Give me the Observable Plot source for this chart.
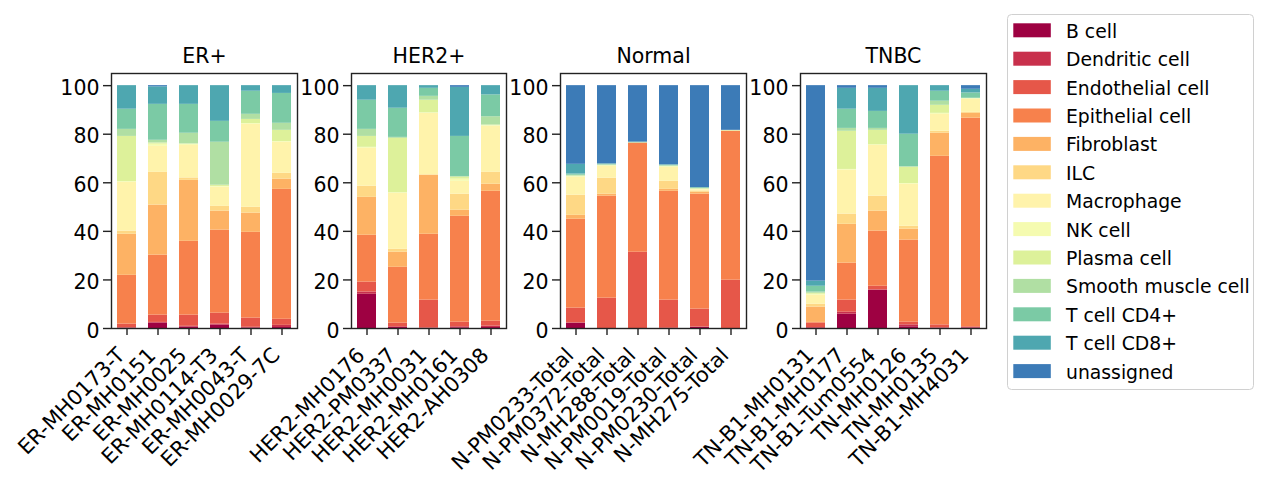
<!DOCTYPE html>
<html><head><meta charset="utf-8">
<script src="https://cdn.jsdelivr.net/npm/d3@7"></script>
<script src="https://cdn.jsdelivr.net/npm/@observablehq/plot@0.6"></script>
<style>
body{margin:0;background:#fff;}
#chart{position:relative;width:1271px;height:489px;overflow:hidden;font-family:"DejaVu Sans",sans-serif;}
#chart > svg{position:absolute;top:0;}
</style></head><body><div id="chart"></div><script>
// ---- data ----
const groups = ["ER+", "HER2+", "Normal", "TNBC"];
const erSamples = ["ER-MH0173-T","ER-MH0151","ER-MH0025","ER-MH0114-T3","ER-MH0043-T","ER-MH0029-7C"];
const her2Samples = ["HER2-MH0176","HER2-PM0337","HER2-MH0031","HER2-MH0161","HER2-AH0308"];
const normalSamples = ["N-PM0233-Total","N-PM0372-Total","N-MH288-Total","N-PM0019-Total","N-PM0230-Total","N-MH275-Total"];
const tnbcSamples = ["TN-B1-MH0131","TN-B1-MH0177","TN-B1-Tum0554","TN-MH0126","TN-MH0135","TN-B1-MH4031"];
const cellTypes = ["B cell","Dendritic cell","Endothelial cell","Epithelial cell","Fibroblast","ILC","Macrophage","NK cell","Plasma cell","Smooth muscle cell","T cell CD4+","T cell CD8+","unassigned"];
const yTicks = [0, 20, 40, 60, 80, 100];

// percentages per cell type, in sample order ER+ | HER2+ | Normal | TNBC
const bCell       = [0.1,2.2,0.6,1.4,0.2,0.4, 14.1,0.4,0.1,0.3,0.4, 2.2,0,0,0.1,0.5,0, 0.1,5.9,15.8,0.7,0.1,0.2];
const dendritic   = [0.2,0.3,0.3,0.4,0.3,0.9, 0.9,0.3,0.1,0.4,0.6, 0.1,0,0,0,0.1,0, 0.3,0.8,0.1,0.8,0.2,0.2];
const endothelial = [1.5,3.0,4.6,4.5,3.8,2.5, 4.1,1.5,11.5,1.9,2.0, 6.1,12.5,31.4,11.6,7.4,19.9, 1.8,5.0,1.5,1.1,1.2,0.3];
const epithelial  = [20.1,24.7,30.4,34.2,35.3,53.5, 19.3,23.0,27.1,43.6,53.5, 36.6,42.0,44.9,44.8,47.3,61.3, 0.3,15.2,22.7,33.8,69.4,85.9];
const fibroblast  = [16.9,20.6,25.1,7.8,7.9,4.2, 15.6,6.2,24.3,2.5,2.9, 1.6,0.8,0.1,0.8,0.8,0.1, 6.3,16.0,8.2,4.5,9.5,2.0];
const ilc         = [1.3,13.5,1.0,2.0,2.4,2.4, 4.6,1.2,0.2,6.6,4.9, 8.3,6.6,0,3.3,0.5,0, 1.2,4.2,6.2,1.2,0.8,0.4];
const macrophage  = [20.1,10.7,13.4,7.9,34.2,12.8, 15.6,23.1,25.3,5.3,19.0, 7.4,4.9,0,5.8,0.5,0, 3.7,18.1,20.9,17.3,7.0,5.4];
const nkCell      = [0.3,0.9,0.5,0.3,0.3,0.3, 0.4,0.2,0.2,0.9,0.2, 0.2,0.2,0,0.2,0.2,0, 0.4,0.3,0.3,0.3,0.4,0.2];
const plasma      = [18.6,0.5,0.1,0.5,1.7,4.6, 4.5,22.4,5.2,0.8,0.3, 0.3,0.2,0,0.2,0.2,0.2, 0.4,15.7,5.9,6.7,3.3,0.2];
const smooth      = [2.9,1.1,4.4,17.7,2.1,2.9, 2.9,0.4,1.6,0.3,3.4, 0.3,0.2,0.1,0.2,0.2,0.1, 0.5,1.2,0.8,0.2,1.7,0];
const cd4         = [8.3,14.8,11.9,8.6,9.5,12.3, 12.0,12.0,3.3,16.5,9.0, 0.5,0.3,0.1,0.3,0.3,0, 2.4,7.9,7.0,13.4,4.1,2.2];
const cd8         = [9.7,7.2,7.7,14.7,2.3,3.2, 6.0,9.3,1.1,20.2,3.8, 4.0,0.1,0.2,0.1,0,0, 2.1,8.6,9.5,20.0,2.3,1.5];
const unassigned  = [0,0.5,0,0,0,0, 0,0,0,0.7,0, 32.4,32.2,23.2,32.6,42.0,18.4, 80.5,1.1,1.1,0,0,1.5];

// ---- build table ----
const series = [bCell,dendritic,endothelial,epithelial,fibroblast,ilc,macrophage,nkCell,plasma,smooth,cd4,cd8,unassigned];
const groupSamples = [erSamples, her2Samples, normalSamples, tnbcSamples];
const table = [];
let j = 0;
groupSamples.forEach((samples, g) => {
  samples.forEach(s => {
    cellTypes.forEach((c, k) => table.push({group: groups[g], sample: s, cell: c, value: series[k][j]}));
    j++;
  });
});

// Spectral colormap (matplotlib, linear segments) sampled at i/13
const spectral = d3.piecewise(d3.interpolateRgb, ["#9e0142","#d53e4f","#f46d43","#fdae61","#fee08b","#ffffbf","#e6f598","#abdda4","#66c2a5","#3288bd","#5e4fa2"]);
const colors = cellTypes.map((_, i) => d3.color(spectral(i / 13)).formatHex());

// ---- panels ----
const chart = document.getElementById("chart");
const panelLeft = [111, 351, 560, 800];
const step = 31, mL = 60, mR = 10, fs = 20.5, fsX = 21;

groups.forEach((g, gi) => {
  const samples = groupSamples[gi];
  const W = samples.length * step;
  const rows = table.filter(d => d.group === g);
  const svg = Plot.plot({
    width: W + mL + mR, height: 489,
    marginLeft: mL, marginRight: mR, marginTop: 73, marginBottom: 161,
    style: {fontFamily: "DejaVu Sans", fontSize: fs + "px", background: "transparent", color: "#000", overflow: "visible"},
    x: {domain: samples, paddingInner: 0.4, paddingOuter: 0.2, axis: null},
    y: {domain: [0, 105], axis: null},
    color: {domain: cellTypes, range: colors},
    marks: [
      Plot.barY(rows, {x: "sample", y: "value", fill: "cell"}),
      Plot.frame({stroke: "#222", strokeWidth: 1.4}),
      Plot.axisY({ticks: yTicks, tickSize: 8, tickFormat: () => "", label: null, strokeWidth: 1.4, stroke: "#222"}),
      Plot.axisY({ticks: yTicks, tickSize: 0, tickPadding: 12, fontSize: fs, label: null, dy: 2.5}),
      Plot.axisX({tickSize: 7, tickFormat: () => "", label: null, strokeWidth: 1.4, stroke: "#222"}),
      Plot.text(samples, {x: d => d, frameAnchor: "bottom", rotate: -45, textAnchor: "end", lineAnchor: "bottom", dx: -1, dy: 28, fontSize: fsX, fill: "#000"}),
      Plot.text([g], {frameAnchor: "top", lineAnchor: "bottom", dy: -10.7, fontSize: fs, fill: "#000"})
    ]
  });
  svg.style.left = (panelLeft[gi] - mL) + "px";
  chart.appendChild(svg);
});

// ---- legend ----
const lg = d3.create("svg").attr("width", 1271).attr("height", 489).style("left", "0px").style("pointer-events", "none");
lg.append("rect").attr("x", 1007.5).attr("y", 14.5).attr("width", 246).attr("height", 375).attr("rx", 4)
  .attr("fill", "#fff").attr("fill-opacity", 0.8).attr("stroke", "#d0d0d0").attr("stroke-width", 1);
cellTypes.forEach((c, i) => {
  const yc = 30.3 + 28.4 * i;
  lg.append("rect").attr("x", 1013.3).attr("y", yc - 7).attr("width", 37.5).attr("height", 14).attr("fill", colors[i]);
  lg.append("text").attr("x", 1066).attr("y", yc + 7.5).attr("font-family", "DejaVu Sans").attr("font-size", 18.8).attr("fill", "#000").text(c);
});
chart.appendChild(lg.node());
</script></body></html>
